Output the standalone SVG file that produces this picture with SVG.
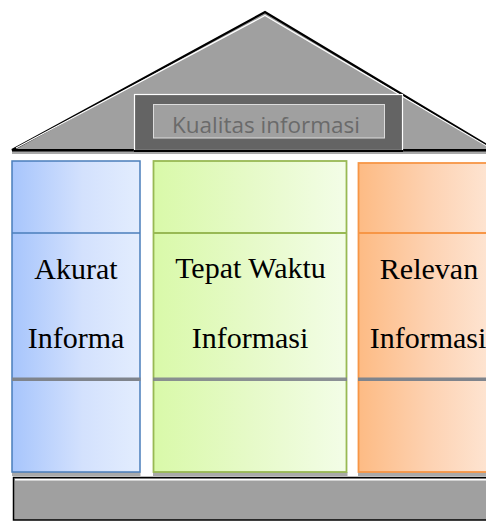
<svg xmlns="http://www.w3.org/2000/svg" width="486" height="521" viewBox="0 0 486 521">
  <defs>
    <linearGradient id="gBlue" x1="0" y1="0" x2="1" y2="0">
      <stop offset="0" stop-color="#a7c5fc"/>
      <stop offset="0.55" stop-color="#d3e1fd"/>
      <stop offset="1" stop-color="#e3edfe"/>
    </linearGradient>
    <linearGradient id="gGreen" x1="0" y1="0" x2="1" y2="0">
      <stop offset="0" stop-color="#d9f9a9"/>
      <stop offset="0.5" stop-color="#e6fac8"/>
      <stop offset="1" stop-color="#f3fde7"/>
    </linearGradient>
    <linearGradient id="gOrange" x1="0" y1="0" x2="1" y2="0">
      <stop offset="0" stop-color="#fdbb84"/>
      <stop offset="0.5" stop-color="#fdd2b2"/>
      <stop offset="1" stop-color="#fee8d8"/>
    </linearGradient>
    <style>
      .pillarText { font-family: "Liberation Serif", "Times New Roman", serif; font-size: 30px; fill: #000; text-anchor: middle; }
      .band { fill: #7f848c; }
      .shadow { fill: #a9a9a9; }
    </style>
  </defs>

  <!-- roof -->
  <g id="roof">
    <rect class="shadow" x="12" y="151" width="474" height="3"/>
    <polygon points="12,150 265,12 495,150" fill="#a0a0a0" stroke="#000" stroke-width="2.2" stroke-linejoin="miter"/>
    <polyline points="16,148 265,15.5 490,148" fill="none" stroke="#ffffff" stroke-width="1.2"/>
    <line x1="12" y1="150.5" x2="486" y2="150.5" stroke="#000" stroke-width="2"/>
  </g>

  <!-- title plate -->
  <g id="title">
    <rect x="134.5" y="94.5" width="268" height="56" fill="#646464" stroke="#ffffff" stroke-width="1.2"/>
    <line x1="134" y1="151" x2="403" y2="151" stroke="#000" stroke-width="2"/>
    <rect x="153.5" y="104.5" width="231" height="33.5" fill="#a0a0a0" stroke="#dcdcdc" stroke-width="1"/>
    <text x="266" y="133" font-family="'Open Sans', 'Liberation Sans', sans-serif" font-size="21" fill="#6a6a6a" text-anchor="middle" textLength="188" lengthAdjust="spacingAndGlyphs">Kualitas informasi</text>
  </g>

  <!-- pillar: accuracy -->
  <g id="pillar-akurat">
    <rect class="shadow" x="12" y="472" width="128.5" height="4"/>
    <rect x="12" y="161" width="128" height="311" fill="url(#gBlue)" stroke="#4a7ebb" stroke-width="1.5"/>
    <line x1="12" y1="233" x2="140" y2="233" stroke="#4a7ebb" stroke-width="1.5"/>
    <rect class="band" x="12" y="377.5" width="128.5" height="3.5"/>
    <text class="pillarText" x="76" y="279">Akurat</text>
    <text class="pillarText" x="76" y="348">Informa</text>
  </g>

  <!-- pillar: timeliness -->
  <g id="pillar-tepat">
    <rect class="shadow" x="153" y="472" width="194.5" height="4"/>
    <rect x="153.5" y="161" width="193" height="311" fill="url(#gGreen)" stroke="#98b954" stroke-width="1.8"/>
    <line x1="153.5" y1="233" x2="346.5" y2="233" stroke="#98b954" stroke-width="1.8"/>
    <rect class="band" x="153" y="377.5" width="194" height="3.5" fill-opacity="0.9"/>
    <text class="pillarText" x="250.5" y="278">Tepat Waktu</text>
    <text class="pillarText" x="250" y="348">Informasi</text>
  </g>

  <!-- pillar: relevance -->
  <g id="pillar-relevan">
    <rect class="shadow" x="358" y="472" width="140" height="4"/>
    <rect x="358.5" y="163" width="142" height="309" fill="url(#gOrange)" stroke="#f79646" stroke-width="1.8"/>
    <line x1="358.5" y1="233" x2="500" y2="233" stroke="#f79646" stroke-width="1.8"/>
    <rect class="band" x="358" y="377.5" width="140" height="3.5" fill="#8a8078"/>
    <text class="pillarText" x="429" y="279">Relevan</text>
    <text class="pillarText" x="428" y="348">Informasi</text>
  </g>

  <!-- foundation -->
  <g id="foundation">
    <rect x="13.5" y="477.5" width="480" height="42.5" fill="#a0a0a0" stroke="#000" stroke-width="1.5"/>
    <line x1="15" y1="479.8" x2="486" y2="479.8" stroke="#ffffff" stroke-width="1.6"/>
  </g>

  <g id="connectors"/>
</svg>
